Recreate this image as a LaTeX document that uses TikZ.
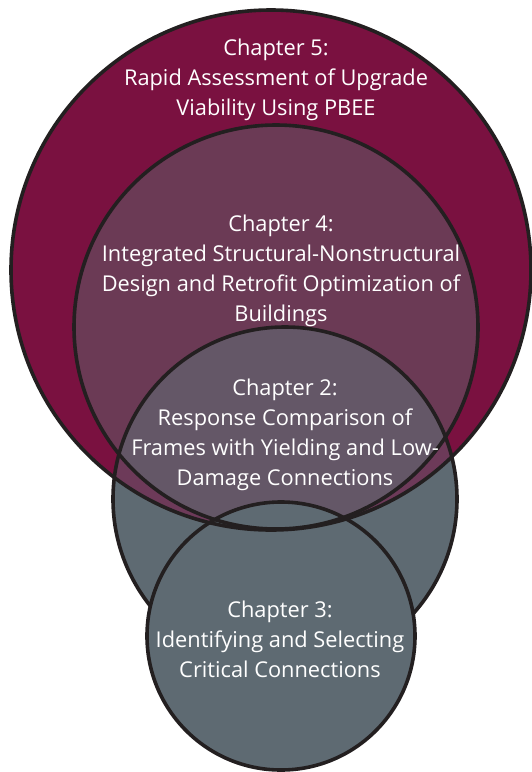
\documentclass[tikz,border=0pt]{standalone}
\usepackage{fontspec}
\setmainfont{Open Sans}
\definecolor{maroon}{HTML}{7A1140}
\definecolor{plum}{HTML}{6B3A55}
\definecolor{plumsliver}{HTML}{6D3A59}
\definecolor{mauvegrey}{HTML}{645767}
\definecolor{slate}{HTML}{5E6A72}
\definecolor{rim}{HTML}{231F20}
\begin{document}
\begin{tikzpicture}[x=1pt,y=-1pt,
  rimline/.style={draw=rim,line width=3.6pt},
  label/.style={text=white,align=center,font=\fontsize{21.8}{30}\selectfont,inner sep=0pt}]
\useasboundingbox (0,0) rectangle (532,772);
% circle centres
\coordinate (c5) at (271,270);
\coordinate (c4) at (276,327);
\coordinate (c2) at (285,499);
\coordinate (c3) at (281,636);
% fills
\fill[maroon] (c5) circle[radius=260pt];
\fill[plum] (c4) circle[radius=202pt];
\fill[slate] (c2) circle[radius=172pt];
\begin{scope}
  \clip (c5) circle[radius=260pt];
  \fill[plumsliver] (c2) circle[radius=172pt];
\end{scope}
\begin{scope}
  \clip (c4) circle[radius=202pt];
  \fill[mauvegrey] (c2) circle[radius=172pt];
\end{scope}
\draw[rimline] (c2) circle[radius=172pt];
\fill[slate] (c3) circle[radius=134pt];
% outlines
\draw[rimline] (c3) circle[radius=134pt];
\draw[rimline] (c5) circle[radius=260pt];
\draw[rimline] (c4) circle[radius=202pt];
% labels
\node[label] (t5) at (276,80) {Chapter 5:\\Rapid Assessment of Upgrade\\Viability Using PBEE};
\node[label] (t4) at (281,271) {Chapter 4:\\Integrated Structural-Nonstructural\\Design and Retrofit Optimization of\\Buildings};
\node[label] (t2) at (285,435) {Chapter 2:\\Response Comparison of\\Frames with Yielding and Low-\\Damage Connections};
\node[label] (t3) at (280,639) {Chapter 3:\\Identifying and Selecting\\Critical Connections};
\end{tikzpicture}
\end{document}
